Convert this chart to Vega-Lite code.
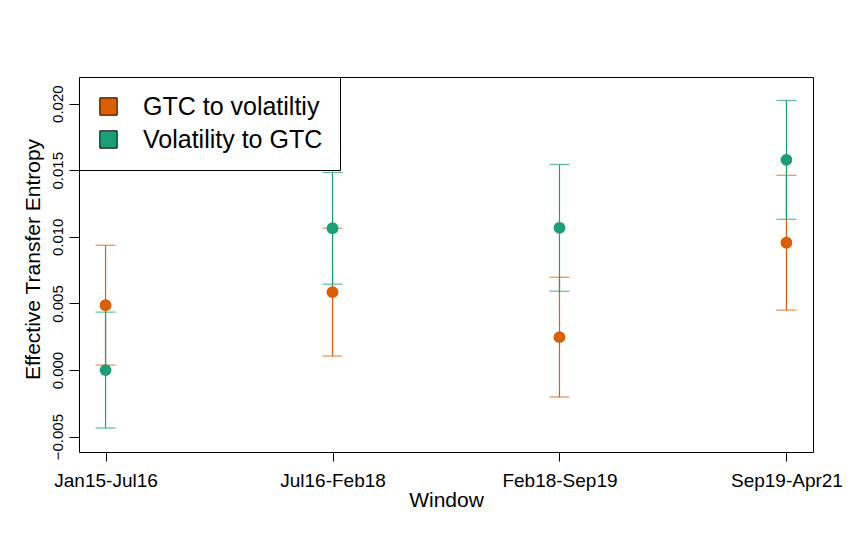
{
  "$schema": "https://vega.github.io/schema/vega-lite/v6.json",
  "width": 734,
  "height": 375,
  "autosize": {"type": "none"},
  "padding": {"left": 79, "top": 77, "right": 40, "bottom": 98},
  "background": "white",
  "config": {
    "font": "Liberation Sans",
    "view": {"stroke": "black", "strokeWidth": 1},
    "axis": {"domain": false, "grid": false, "tickColor": "black", "tickWidth": 1, "labelColor": "black", "titleColor": "black", "titleFontWeight": "normal", "labelFont": "Liberation Sans", "titleFont": "Liberation Sans"}
  },
  "data": {
    "values": [
      {"window": "Jan15-Jul16", "series": "GTC to volatiltiy", "te": 0.00487, "lo": 0.00037, "hi": 0.00937},
      {"window": "Jul16-Feb18", "series": "GTC to volatiltiy", "te": 0.00585, "lo": 0.00105, "hi": 0.01065},
      {"window": "Feb18-Sep19", "series": "GTC to volatiltiy", "te": 0.00247, "lo": -0.00202, "hi": 0.00697},
      {"window": "Sep19-Apr21", "series": "GTC to volatiltiy", "te": 0.00956, "lo": 0.0045, "hi": 0.01462},
      {"window": "Jan15-Jul16", "series": "Volatility to GTC", "te": 0.0, "lo": -0.00435, "hi": 0.00435},
      {"window": "Jul16-Feb18", "series": "Volatility to GTC", "te": 0.01065, "lo": 0.00645, "hi": 0.01484},
      {"window": "Feb18-Sep19", "series": "Volatility to GTC", "te": 0.01068, "lo": 0.00592, "hi": 0.01544},
      {"window": "Sep19-Apr21", "series": "Volatility to GTC", "te": 0.01578, "lo": 0.01132, "hi": 0.02024}
    ]
  },
  "encoding": {
    "x": {
      "field": "window",
      "type": "nominal",
      "sort": null,
      "scale": {"type": "point", "padding": 0.117},
      "axis": {"title": "Window", "labelAngle": 0, "labelFontSize": 19, "labelPadding": 10, "tickSize": 9, "titleFontSize": 21, "titleY": 54, "titleBaseline": "alphabetic"}
    }
  },
  "layer": [
    {
      "mark": {"type": "rule", "strokeWidth": 1.2},
      "encoding": {
        "y": {"field": "lo", "type": "quantitative"},
        "y2": {"field": "hi"},
        "color": {"field": "series", "type": "nominal", "scale": {"domain": ["GTC to volatiltiy", "Volatility to GTC"], "range": ["#D95F02", "#1B9E77"]}, "legend": null}
      }
    },
    {
      "mark": {"type": "tick", "size": 20, "thickness": 1.2},
      "encoding": {
        "y": {"field": "lo", "type": "quantitative"},
        "color": {"field": "series", "type": "nominal", "legend": null}
      }
    },
    {
      "mark": {"type": "tick", "size": 20, "thickness": 1.2},
      "encoding": {
        "y": {"field": "hi", "type": "quantitative"},
        "color": {"field": "series", "type": "nominal", "legend": null}
      }
    },
    {
      "mark": {"type": "point", "filled": true, "opacity": 1, "size": 140, "shape": "circle"},
      "encoding": {
        "y": {
          "field": "te",
          "type": "quantitative",
          "scale": {"domain": [-0.00615, 0.022], "nice": false, "zero": false},
          "axis": {"title": "Effective Transfer Entropy", "values": [-0.005, 0, 0.005, 0.01, 0.015, 0.02], "format": ".3f", "labelFontSize": 15, "labelAngle": 270, "labelAlign": "center", "labelBaseline": "alphabetic", "labelPadding": 7, "tickSize": 10, "titleFontSize": 21, "titleAngle": 270, "titleX": -40, "titleY": 182, "titleAlign": "center", "titleBaseline": "alphabetic"}
        },
        "color": {
          "field": "series",
          "type": "nominal",
          "legend": {
            "title": null,
            "orient": "none",
            "legendX": 0,
            "legendY": 0,
            "symbolType": "square",
            "symbolSize": 300,
            "symbolOffset": 0,
            "symbolStrokeColor": "black",
            "symbolStrokeWidth": 1,
            "labelFontSize": 25,
            "labelFont": "Liberation Sans",
            "labelColor": "black",
            "labelOffset": 22,
            "rowPadding": 7,
            "padding": 17,
            "strokeColor": "black",
            "fillColor": "white",
            "labelLimit": 400,
            "encode": {"symbols": {"enter": {"stroke": {"value": "black"}, "strokeWidth": {"value": 1}}, "update": {"stroke": {"value": "black"}, "strokeWidth": {"value": 1}, "opacity": {"value": 1}}}}
          }
        }
      }
    }
  ],
  "resolve": {"legend": {"color": "independent"}}
}
